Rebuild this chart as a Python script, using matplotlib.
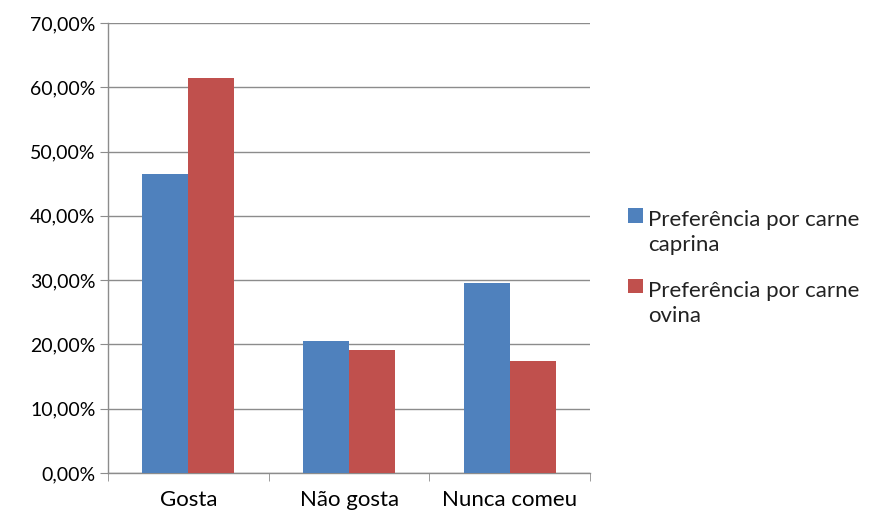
import numpy as np
import matplotlib.pyplot as plt
from matplotlib.ticker import FuncFormatter, FixedLocator
from matplotlib.legend_handler import HandlerPatch
from matplotlib.patches import Rectangle

plt.rcParams['font.family'] = ['Lato', 'DejaVu Sans']

categories = ['Gosta', 'Não gosta', 'Nunca comeu']
caprina = [46.5, 20.6, 29.5]
ovina = [61.4, 19.1, 17.4]
series_labels = ['Preferência por carne\ncaprina', 'Preferência por carne\novina']

fig = plt.figure(figsize=(8.73, 5.17), dpi=100)
ax = fig.add_axes([0.1237, 0.0851, 0.676 - 0.1237, 0.9555 - 0.0851])

x = np.arange(len(categories))
w = 0.2857
b1 = ax.bar(x - w / 2, caprina, w, color='#4F81BD', zorder=3)
b2 = ax.bar(x + w / 2, ovina, w, color='#C0504D', zorder=3)

ax.set_xlim(-0.5, len(categories) - 0.5)
ax.set_ylim(0, 70)
ax.set_yticks(np.arange(0, 71, 10))
ax.yaxis.set_major_formatter(FuncFormatter(lambda v, p: ('%.2f' % v).replace('.', ',') + '%'))
ax.yaxis.grid(True, color='#8c8c8c', linewidth=1, zorder=0)

ax.xaxis.set_major_locator(FixedLocator(x))
ax.set_xticklabels(categories)
ax.xaxis.set_minor_locator(FixedLocator(np.arange(-0.5, len(categories), 1)))
ax.tick_params(axis='x', which='major', length=0, pad=12, labelsize=16, colors='#000000')
ax.tick_params(axis='x', which='minor', length=6, color='#8c8c8c', direction='out')
ax.tick_params(axis='y', length=6, color='#8c8c8c', direction='out', labelsize=14, pad=3)

for s in ['top', 'right']:
    ax.spines[s].set_visible(False)
for s in ['left', 'bottom']:
    ax.spines[s].set_color('#8c8c8c')
    ax.spines[s].set_linewidth(1)

# square next to the first line of each two-line label
def top_square(legend, orig_handle, xdescent, ydescent, width, height, fontsize):
    return Rectangle((-xdescent, -ydescent + 0.8 * fontsize), width, height)

leg = ax.legend([b1.patches[0], b2.patches[0]], series_labels,
                loc='center left', bbox_to_anchor=(1.038, 0.455), frameon=False,
                fontsize=16, handlelength=0.65, handleheight=0.65, handletextpad=0.25,
                labelspacing=1.15,
                handler_map={Rectangle: HandlerPatch(patch_func=top_square)})
for t in leg.get_texts():
    t.set_linespacing(1.32)
    t.set_color('#222222')

fig.savefig('out.png', dpi=100)
